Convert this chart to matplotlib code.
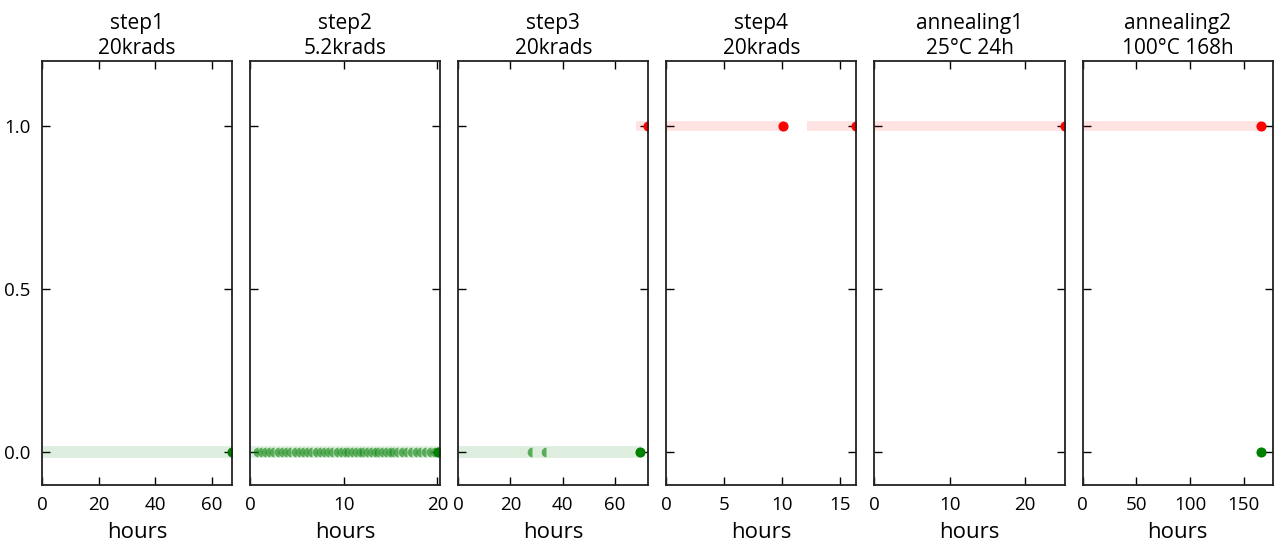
import matplotlib
matplotlib.use("Agg")
import matplotlib.pyplot as plt

plt.rcParams['font.family'] = ['Open Sans', 'DejaVu Sans']

titles = ["step1\n20krads", "step2\n5.2krads", "step3\n20krads", "step4\n20krads",
          "annealing1\n25°C 24h", "annealing2\n100°C 168h"]
xmax = [67.2, 20.3, 72.8, 16.4, 25.3, 177.0]
xticks = [[0, 20, 40, 60], [0, 10, 20], [0, 20, 40, 60], [0, 5, 10, 15], [0, 10, 20], [0, 50, 100, 150]]

# green (y = 0) band segments and markers per panel
green_bands = [[(0, 67.2)], [(0, 20.3)], [(0, 70.0)], [], [], []]
green_full = [[67.2], [20.1], [69.6], [], [], [166.0]]
green_half = [[],
              [0.8, 1.25, 1.7, 2.15, 2.6, 3.05, 3.5, 3.95, 4.4, 4.85, 5.3, 5.75, 6.2, 6.65,
               7.1, 7.55, 8.0, 8.45, 8.9, 9.35, 9.8, 10.2, 10.6, 11.0, 11.4, 11.8, 12.2,
               12.6, 13.0, 13.4, 13.8, 14.2, 14.6, 15.0, 15.4, 15.8, 16.3, 16.8, 17.3,
               17.8, 18.3, 18.8, 19.3, 19.7],
              [28.2, 33.6], [], [], []]
# red (y = 1) band segments and markers per panel
red_bands = [[], [], [(68.0, 72.8)], [(0, 10.1), (12.1, 16.4)], [(0, 25.3)], [(0, 166.0)]]
red_full = [[], [], [72.8], [10.1, 16.4], [25.3], [166.0]]

GREEN = "#008000"
RED = "#ff0000"

fig = plt.figure(figsize=(12.83, 5.46), dpi=100)
left, right, top, bottom = 0.0327, 0.992, 0.888, 0.112
n = 6
gap = 18 / 1283
w = (right - left - gap * (n - 1)) / n

for i in range(n):
    ax = fig.add_axes([left + i * (w + gap), bottom, w, top - bottom])
    for a, b in green_bands[i]:
        ax.plot([a, b], [0, 0], color=GREEN, alpha=0.13, lw=8.5, solid_capstyle='butt')
    for a, b in red_bands[i]:
        ax.plot([a, b], [1, 1], color=RED, alpha=0.11, lw=7, solid_capstyle='butt')
    if green_half[i]:
        ax.plot(green_half[i], [0] * len(green_half[i]), 'o', color=GREEN, ms=7,
                fillstyle='left', markeredgewidth=0, alpha=0.6, linestyle='none')
    if green_full[i]:
        ax.plot(green_full[i], [0] * len(green_full[i]), 'o', color=GREEN, ms=7.3,
                markeredgewidth=0, linestyle='none')
    if red_full[i]:
        ax.plot(red_full[i], [1] * len(red_full[i]), 'o', color=RED, ms=7.3,
                markeredgewidth=0, linestyle='none')
    ax.set_xlim(0, xmax[i])
    ax.set_ylim(-0.1, 1.2)
    ax.set_xticks(xticks[i])
    ax.set_yticks([0.0, 0.5, 1.0])
    ax.tick_params(direction='in', top=True, right=True, length=6, width=1,
                   labelsize=13.5, pad=8)
    if i == 0:
        ax.set_yticklabels(["0.0", "0.5", "1.0"])
    else:
        ax.set_yticklabels([])
    for s in ax.spines.values():
        s.set_linewidth(1.3)
        s.set_color("#222222")
    ax.set_xlabel("hours", fontsize=16, labelpad=6)
    ax.set_title(titles[i], fontsize=15, pad=5, linespacing=1.25)

fig.savefig("out.png", dpi=100)
